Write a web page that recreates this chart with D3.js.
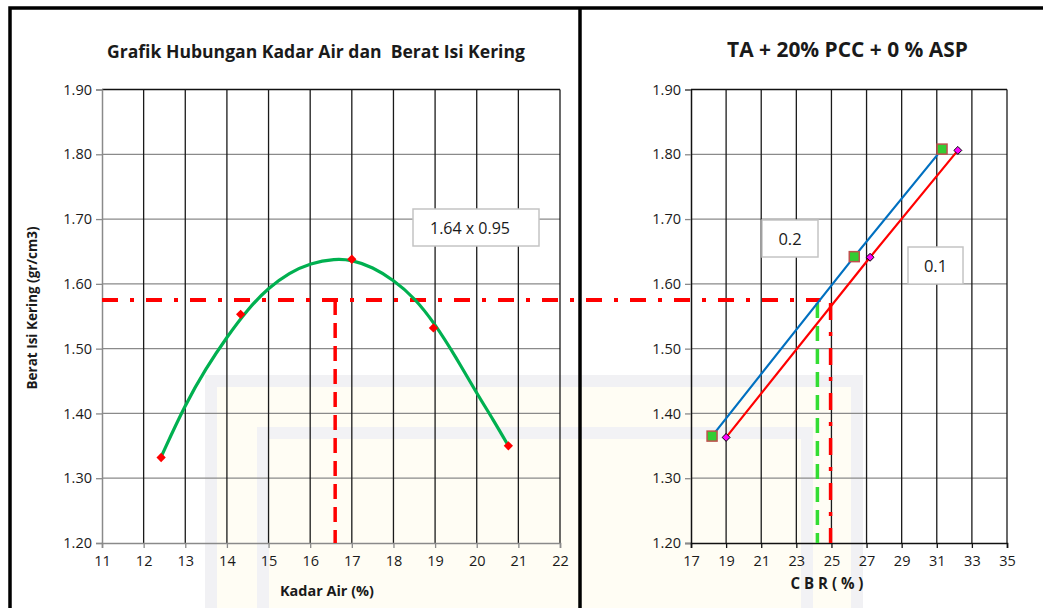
<!DOCTYPE html>
<html>
<head>
<meta charset="utf-8">
<script src="https://cdn.jsdelivr.net/npm/d3@7"></script>
<style>
  html, body { margin: 0; padding: 0; background: #fff; }
  svg { display: block; }
  text { font-family: "Open Sans", "DejaVu Sans", sans-serif; fill: #1a1a1a; white-space: pre; }
</style>
</head>
<body>
<svg id="chart" width="1043" height="608"></svg>
<script>
// ---------- DATA ----------
// Left chart: Kadar Air vs Berat Isi Kering
const kadarAir = [12.42, 14.33, 17.0, 18.96, 20.76];
const beratIsi = [1.332, 1.553, 1.638, 1.532, 1.350];
// trendline
const curveX = [12.42, 13.0, 13.5, 14.0, 14.5, 15.0, 15.5, 16.0, 16.6, 17.0, 17.5, 18.0, 18.5, 19.0, 19.5, 20.0, 20.4, 20.76];
const curveY = [1.333, 1.414, 1.470, 1.518, 1.561, 1.594, 1.617, 1.632, 1.639, 1.637, 1.626, 1.606, 1.579, 1.538, 1.487, 1.431, 1.390, 1.350];
const leftXTicks = [11, 12, 13, 14, 15, 16, 17, 18, 19, 20, 21, 22];
const yTicks = [1.20, 1.30, 1.40, 1.50, 1.60, 1.70, 1.80, 1.90];

// Right chart: CBR vs Berat Isi Kering
const cbr02 = [18.2, 26.3, 31.3];
const berat02 = [1.365, 1.642, 1.808];
const cbr01 = [19.0, 27.2, 32.2];
const berat01 = [1.363, 1.641, 1.806];
const rightXTicks = [17, 19, 21, 23, 25, 27, 29, 31, 33, 35];

// Reference values
const refDensity = 1.575;   // 0.95 x MDD line
const refKadarAir = 16.6;
const refCbr02 = 24.2;
const refCbr01 = 24.95;
const refLineEnd = 24.38;

const leftTitle = "Grafik Hubungan Kadar Air dan  Berat Isi Kering";
const rightTitle = "TA + 20% PCC + 0 % ASP";
const leftXLabel = "Kadar Air (%)";
const rightXLabel = "C B R ( % )";
const yLabel = "Berat Isi Kering (gr/cm3)";
const noteMain = "1.64 x 0.95";
const note02 = "0.2";
const note01 = "0.1";

// ---------- DRAW ----------
const svg = d3.select("#chart");
const red = "#FF0000", green = "#00B050", blue = "#0070C0";

// faint watermark
const wm = svg.append("g");
wm.append("rect").attr("x", 211).attr("y", 381).attr("width", 646).attr("height", 260)
  .attr("fill", "#fffdf4").attr("stroke", "#f1f1f4").attr("stroke-width", 12);
wm.append("rect").attr("x", 263).attr("y", 433).attr("width", 544).attr("height", 220)
  .attr("fill", "none").attr("stroke", "#f2f2f5").attr("stroke-width", 12);

const yScale = d3.scaleLinear().domain([1.2, 1.9]).range([543, 89.5]);
const xL = d3.scaleLinear().domain([11, 22]).range([102, 560]);
const xR = d3.scaleLinear().domain([17, 35]).range([691, 1007]);

function fit(t, w) {
  const l = t.node().getComputedTextLength();
  const fs = parseFloat(t.attr("font-size"));
  t.attr("font-size", (fs * w / l).toFixed(2));
}

function grid(xs, ticks, axisColor, yAxisColor) {
  const g = svg.append("g");
  g.selectAll(".hg").data(yTicks.filter(d => d > 1.2 && d < 1.9)).join("line")
    .attr("x1", xs.range()[0]).attr("x2", xs.range()[1])
    .attr("y1", d => yScale(d)).attr("y2", d => yScale(d))
    .attr("stroke", "#8a8a8a").attr("stroke-width", 1.2);
  g.append("line").attr("x1", xs.range()[0]).attr("x2", xs.range()[1])
    .attr("y1", yScale(1.9)).attr("y2", yScale(1.9)).attr("stroke", "#111").attr("stroke-width", 1.3);
  g.selectAll(".vg").data(ticks.slice(1)).join("line")
    .attr("x1", d => xs(d)).attr("x2", d => xs(d))
    .attr("y1", yScale(1.9)).attr("y2", yScale(1.2))
    .attr("stroke", "#1a1a1a").attr("stroke-width", 1.3);
  const ya = d3.axisLeft(yScale).tickValues(yTicks).tickFormat(d3.format(".2f")).tickSize(6).tickPadding(4);
  const yg = g.append("g").attr("transform", `translate(${xs.range()[0]},0)`).call(ya);
  yg.select(".domain").attr("stroke", yAxisColor).attr("stroke-width", 1.5);
  yg.selectAll(".tick line").attr("stroke", "#8a8a8a").attr("stroke-width", 1.3);
  yg.selectAll("text").attr("font-size", 14.5).attr("font-family", "Open Sans").attr("fill", "#1a1a1a");
  const xa = d3.axisBottom(xs).tickValues(ticks).tickFormat(d3.format("d")).tickSize(5).tickPadding(8);
  const xg = g.append("g").attr("transform", `translate(0,${yScale(1.2)})`).call(xa);
  xg.select(".domain").attr("stroke", axisColor).attr("stroke-width", 1.6);
  xg.selectAll(".tick line").attr("stroke", axisColor).attr("stroke-width", 1.3);
  xg.selectAll("text").attr("font-size", 14.5).attr("font-family", "Open Sans").attr("fill", "#1a1a1a");
}

grid(xL, leftXTicks, "#8a8a8a", "#8a8a8a");
grid(xR, rightXTicks, "#111", "#111");

// horizontal dash-dot reference line spanning both charts
svg.append("line")
  .attr("x1", xL(11)).attr("x2", xR(refLineEnd))
  .attr("y1", yScale(refDensity)).attr("y2", yScale(refDensity))
  .attr("stroke", red).attr("stroke-width", 4).attr("stroke-dasharray", "16,12,4,12");

svg.append("line")
  .attr("x1", xL(refKadarAir)).attr("x2", xL(refKadarAir))
  .attr("y1", yScale(refDensity)).attr("y2", yScale(1.2))
  .attr("stroke", red).attr("stroke-width", 3.5).attr("stroke-dasharray", "15,8");

svg.append("line")
  .attr("x1", xR(refCbr02)).attr("x2", xR(refCbr02))
  .attr("y1", yScale(refDensity) + 3).attr("y2", yScale(1.2))
  .attr("stroke", "#33DD33").attr("stroke-width", 3.5).attr("stroke-dasharray", "15,8");
svg.append("line")
  .attr("x1", xR(refCbr01)).attr("x2", xR(refCbr01))
  .attr("y1", yScale(refDensity) + 3).attr("y2", yScale(1.2))
  .attr("stroke", red).attr("stroke-width", 3.5).attr("stroke-dasharray", "17,12,4,12");

// left curve
const curvePts = curveX.map((x, i) => [x, curveY[i]]);
svg.append("path").datum(curvePts)
  .attr("d", d3.line().x(d => xL(d[0])).y(d => yScale(d[1])).curve(d3.curveBasis))
  .attr("fill", "none").attr("stroke", green).attr("stroke-width", 3.2);

const diamond = d3.symbol().type(d3.symbolDiamond2);
svg.selectAll(".ld").data(kadarAir.map((x, i) => [x, beratIsi[i]])).join("path")
  .attr("d", diamond.size(55)())
  .attr("transform", d => `translate(${xL(d[0])},${yScale(d[1])})`)
  .attr("fill", red);

// right lines
const p02 = cbr02.map((x, i) => [x, berat02[i]]);
const p01 = cbr01.map((x, i) => [x, berat01[i]]);
const lineR = d3.line().x(d => xR(d[0])).y(d => yScale(d[1]));
svg.append("path").datum(p02).attr("d", lineR).attr("fill", "none").attr("stroke", blue).attr("stroke-width", 2.2);
svg.append("path").datum(p01).attr("d", lineR).attr("fill", "none").attr("stroke", red).attr("stroke-width", 2.2);

svg.selectAll(".sq").data(p02).join("rect")
  .attr("x", d => xR(d[0]) - 5).attr("y", d => yScale(d[1]) - 5)
  .attr("width", 10).attr("height", 10)
  .attr("fill", "#33CC33").attr("stroke", "#C0504D").attr("stroke-width", 1.5);
svg.selectAll(".md").data(p01).join("path")
  .attr("d", diamond.size(40)())
  .attr("transform", d => `translate(${xR(d[0])},${yScale(d[1])})`)
  .attr("fill", "#FF00FF").attr("stroke", "#000").attr("stroke-width", 1);

// note boxes
function note(x, y, w, h, txt, fs, tx) {
  svg.append("rect").attr("x", x).attr("y", y).attr("width", w).attr("height", h)
    .attr("fill", "#fff").attr("stroke", "#c4c4c4").attr("stroke-width", 1.5);
  svg.append("text").attr("x", tx).attr("y", y + h / 2 + 6)
    .attr("text-anchor", "middle").attr("font-size", fs).text(txt);
}
note(413, 209, 126, 37, noteMain, 16, 470);
note(762, 220, 56, 37, note02, 16.5, 790);
note(908, 247, 55, 37, note01, 16.5, 935.5);

// titles
const t1 = svg.append("text").attr("x", 316).attr("y", 58).attr("text-anchor", "middle")
  .attr("font-family", "Lato").attr("font-weight", "bold").attr("font-size", 16).text(leftTitle);
fit(t1, 418);
const t2 = svg.append("text").attr("x", 847.5).attr("y", 57).attr("text-anchor", "middle")
  .attr("font-family", "Lato").attr("font-weight", "bold").attr("font-size", 19).text(rightTitle);
fit(t2, 241);

const xt1 = svg.append("text").attr("x", 327).attr("y", 596).attr("text-anchor", "middle")
  .attr("font-family", "Lato").attr("font-weight", "bold").attr("font-size", 13).text(leftXLabel);
fit(xt1, 94);
const xt2 = svg.append("text").attr("x", 827).attr("y", 589).attr("text-anchor", "middle")
  .attr("font-family", "Lato").attr("font-weight", "bold").attr("font-size", 13).text(rightXLabel);
fit(xt2, 73);
const yt = svg.append("text").attr("transform", "translate(36.5,308) rotate(-90)").attr("text-anchor", "middle")
  .attr("font-family", "Lato").attr("font-weight", "bold").attr("font-size", 13).text(yLabel);
fit(yt, 163);

// outer frame
svg.append("rect").attr("x", 10).attr("y", 8).attr("width", 1060).attr("height", 640)
  .attr("fill", "none").attr("stroke", "#000").attr("stroke-width", 3.5);
svg.append("line").attr("x1", 580).attr("x2", 580).attr("y1", 8).attr("y2", 608)
  .attr("stroke", "#000").attr("stroke-width", 3.5);
</script>
</body>
</html>
